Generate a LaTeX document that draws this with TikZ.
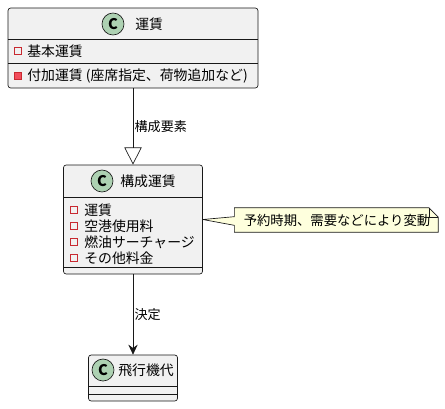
\documentclass[tikz,border=0pt]{standalone}
\usepackage{fontspec}
\setmainfont{Noto Sans CJK JP}
\usetikzlibrary{arrows.meta,backgrounds}
\definecolor{classbg}{HTML}{F1F1F1}
\definecolor{lineclr}{HTML}{181818}
\definecolor{markgreen}{HTML}{ADD1B2}
\definecolor{privred}{HTML}{C82930}
\definecolor{privfill}{HTML}{F24D5C}
\definecolor{notebg}{HTML}{FEFFDD}
\begin{document}
\begin{tikzpicture}[
    x=0.75pt, y=-0.75pt,
    classbox/.style={draw=lineclr, fill=classbg, rounded corners=2pt, line width=0.5pt, inner sep=0pt},
    sepline/.style={draw=lineclr, line width=0.5pt},
    cmark/.style={circle, draw=lineclr, fill=markgreen, line width=0.5pt, minimum size=16.5pt, inner sep=0pt, font=\fontsize{11}{11}\selectfont\bfseries},
    title/.style={anchor=west, inner sep=0pt, font=\fontsize{10.4}{12}\selectfont},
    member/.style={anchor=west, inner sep=0pt, font=\fontsize{10.4}{12}\selectfont},
    privfield/.style={rectangle, draw=privred, line width=0.7pt, minimum size=5pt, inner sep=0pt},
    privmethod/.style={privfield, fill=privfill},
    notebox/.style={draw=lineclr, fill=notebg, line width=0.5pt},
    lbl/.style={anchor=west, inner sep=1pt, font=\fontsize{9.8}{11}\selectfont},
    extendsarrow/.style={draw=lineclr, line width=0.5pt, -{Triangle[open, length=13pt, width=13pt]}},
    plainarrow/.style={draw=lineclr, line width=0.5pt, -{Stealth[length=7.5pt, width=7pt, inset=2.5pt]}}
]
\useasboundingbox (0,0) rectangle (445,408);
% 運賃
\node[classbox, minimum width=187.5pt, minimum height=60pt] (unchin) at (133,48) {};
\draw[sepline] (8,39) -- (258,39);
\draw[sepline] (8,63) -- (258,63);
\node[cmark] (unchinC) at (113,24) {C};
\node[title] (unchinT) at (135,24) {運賃};
\node[privfield] (kihonI) at (18,51) {};
\node[member] (kihon) at (27,51) {基本運賃};
\node[privmethod] (fukaI) at (18,76) {};
\node[member] (fuka) at (27,76) {付加運賃 (座席指定、荷物追加など)};
% 構成運賃
\node[classbox, minimum width=104.25pt, minimum height=81.75pt] (kousei) at (133,219.5) {};
\draw[sepline] (63.5,197) -- (202.5,197);
\draw[sepline] (63.5,267) -- (202.5,267);
\node[cmark] (kouseiC) at (102,181) {C};
\node[title] (kouseiT) at (120,181) {構成運賃};
\node[privfield] (k1I) at (74,210) {};
\node[member] (k1) at (84,210) {運賃};
\node[privfield] (k2I) at (74,226) {};
\node[member] (k2) at (84,226) {空港使用料};
\node[privfield] (k3I) at (74,242) {};
\node[member] (k3) at (84,242) {燃油サーチャージ};
\node[privfield] (k4I) at (74,258) {};
\node[member] (k4) at (84,258) {その他料金};
% 飛行機代
\node[classbox, minimum width=66.75pt, minimum height=34.5pt] (hikouki) at (133,378) {};
\draw[sepline] (88.5,386) -- (177.5,386);
\draw[sepline] (88.5,394) -- (177.5,394);
\node[cmark] (hikoukiC) at (103,370) {C};
\node[title] (hikoukiT) at (118,370) {飛行機代};
% note
\node[inner sep=0pt, minimum width=151.5pt, minimum height=18pt, font=\fontsize{10}{12}\selectfont] (hendo) at (337,220) {予約時期、需要などにより変動};
\begin{scope}[on background layer]
\draw[notebox] ([xshift=-1pt]hendo.north west) -- ([xshift=-7pt]hendo.north east) -- ([yshift=-7pt]hendo.north east)
    -- (hendo.south east) -- ([xshift=-1pt]hendo.south west) -- ([xshift=-1pt,yshift=-4pt]hendo.west) -- (kousei.east)
    -- ([xshift=-1pt,yshift=2.5pt]hendo.west) -- cycle;
\end{scope}
\draw[sepline] ([xshift=-7pt]hendo.north east) -- ([xshift=-7pt,yshift=-7pt]hendo.north east) -- ([yshift=-7pt]hendo.north east);
% Arrows
\draw[extendsarrow] (unchin.south) -- node[lbl] {構成要素} (kousei.north);
\draw[plainarrow] (kousei.south) -- node[lbl] {決定} (hikouki.north);
\end{tikzpicture}
\end{document}
